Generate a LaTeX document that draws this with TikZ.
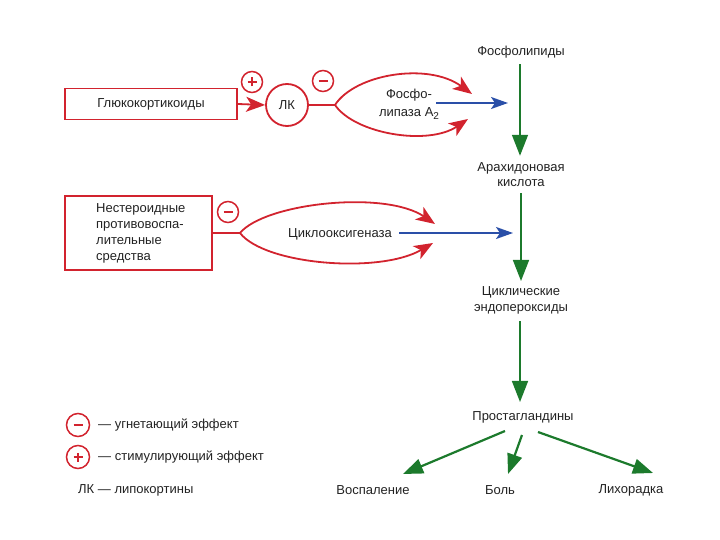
\documentclass[tikz,border=0pt]{standalone}
\usepackage{fontspec}
\setmainfont{Liberation Sans}
\usetikzlibrary{arrows.meta}
\definecolor{rd}{HTML}{D2232E}
\definecolor{bl}{HTML}{2A4FA8}
\definecolor{gn}{HTML}{1C7A2C}
\definecolor{tx}{HTML}{222222}
\begin{document}
\begin{tikzpicture}[x=1pt,y=-1pt,
  font=\fontsize{13}{15}\selectfont,
  every node/.style={text=tx},
  lbl/.style={inner sep=1, align=center},
  rbox/.style={draw=rd, line width=1.9, rectangle, inner sep=0},
  sign/.style={circle, draw=rd, line width=1.5, minimum size=21, inner sep=0},
  minussign/.style={sign, path picture={\draw[rd, line width=1.6] ([xshift=-4.5pt]path picture bounding box.center) -- ([xshift=4.5pt]path picture bounding box.center);}},
  plussign/.style={sign, path picture={\draw[rd, line width=1.6] ([xshift=-4.5pt]path picture bounding box.center) -- ([xshift=4.5pt]path picture bounding box.center) ([yshift=-4.5pt]path picture bounding box.center) -- ([yshift=4.5pt]path picture bounding box.center);}},
  rline/.style={draw=rd, line width=1.8},
  rarr/.style={draw=rd, line width=1.8, -{Stealth[length=19,width=15,inset=5]}},
  barr/.style={draw=bl, line width=1.8, -{Stealth[length=17,width=12,inset=4]}},
  garr/.style={draw=gn, line width=1.6, -{Triangle[length=21,width=16]}},
  garrs/.style={draw=gn, line width=2.2, -{Triangle[length=20,width=15]}}]
\useasboundingbox (0,0) rectangle (720,540);

% --- top row
\node[rbox, minimum width=172, minimum height=31] (gk) at (151,104) {Глюкокортикоиды};
\node[plussign] (plus1) at (252,82) {};
\node[circle, draw=rd, line width=1.8, minimum size=42, inner sep=0] (lk) at (287,105) {ЛК};
\node[minussign] (minus1) at (323,81) {};
\coordinate (s1) at (335,105);
\coordinate (t1a) at (472,94);
\coordinate (t1b) at (468,119);
\node[lbl, font=\fontsize{13}{18}\selectfont] (pla) at (409,104) {Фосфо-\\липаза A\raisebox{-0.45ex}{\fontsize{10}{10}\selectfont 2}};
\coordinate (b1e) at (508,103);
\draw[rarr] (gk.east) -- (lk.west);
\draw[rline] (lk.east) -- (s1);
\draw[rarr] (s1) .. controls (355,74) and (428,62) .. (t1a);
\draw[rarr] (s1) .. controls (355,134) and (428,146) .. (t1b);
\draw[barr] ([xshift=-4pt]pla.east |- b1e) -- (b1e);

% --- main chain
\node[lbl] (fl) at (521,52) {Фосфолипиды};
\node[lbl] (ak) at (521,175) {Арахидоновая\\кислота};
\node[lbl, font=\fontsize{13}{16}\selectfont] (ce) at (521,300) {Циклические\\эндопероксиды};
\node[lbl] (pg) at (523,417) {Простагландины};
\draw[garr, shorten <=5, shorten >=6] (fl.south -| 520,0) -- (ak.north -| 520,0);
\draw[garr, shorten <=5, shorten >=4] (ak.south -| 521,0) -- (ce.north -| 521,0);
\draw[garr, shorten <=6, shorten >=8] (ce.south -| 520,0) -- (pg.north -| 520,0);

% --- second row
\node[rbox, minimum width=147, minimum height=74] (nsaid) at (138.5,233) {};
\node[anchor=west, align=left, inner sep=0, font=\fontsize{13}{16}\selectfont] (nsaidtxt) at (96,233) {Нестероидные\\противовоспа-\\лительные\\средства};
\node[minussign] (minus2) at (228,212) {};
\coordinate (s2) at (240,233);
\coordinate (t2a) at (435,224);
\coordinate (t2b) at (433,243);
\node[lbl] (cox) at (340,234) {Циклооксигеназа};
\coordinate (b2e) at (513,233);
\draw[rline] (nsaid.east) -- (s2);
\draw[rarr] (s2) .. controls (265,203) and (385,190) .. (t2a);
\draw[rarr] (s2) .. controls (265,265) and (380,274) .. (t2b);
\draw[barr] ([xshift=6pt]cox.east |- b2e) -- (b2e);

% --- outcomes
\node[lbl] (v) at (373,490) {Воспаление};
\node[lbl] (b) at (500,490) {Боль};
\node[lbl] (l) at (631,490) {Лихорадка};
\coordinate (p1) at (505,431);
\coordinate (p2) at (522,435);
\coordinate (p3) at (538,432);
\coordinate (e1) at (403,474);
\coordinate (e2) at (508,474);
\coordinate (e3) at (653,473);
\draw[garrs] (p1) -- (e1);
\draw[garrs] (p2) -- (e2);
\draw[garrs] (p3) -- (e3);

% --- legend
\node[minussign, minimum size=23] (lm) at (78,425) {};
\node[anchor=west, inner sep=0] (lmt) at (98,425) {— угнетающий эффект};
\node[plussign, minimum size=23] (lp) at (78,457) {};
\node[anchor=west, inner sep=0] (lpt) at (98,457) {— стимулирующий эффект};
\node[anchor=west, inner sep=0] (lkt) at (78,490) {ЛК — липокортины};
\end{tikzpicture}
\end{document}
